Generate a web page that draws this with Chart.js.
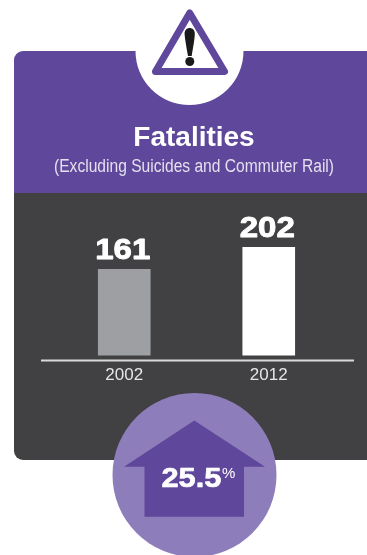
<!DOCTYPE html>
<html>
<head>
<meta charset="utf-8">
<title>Fatalities</title>
<style>
    html, body { margin: 0; padding: 0; background: #fff; }
    canvas { display: block; }
</style>
<script src="https://cdn.jsdelivr.net/npm/chart.js@4"></script>
</head>
<body>
<canvas id="myChart" width="367" height="555"></canvas>
<script>
const categories = ['2002', '2012']
const fatalities = [161, 202]
const barColors = ['#9d9fa2', '#ffffff']
const titleText = 'Fatalities'
const subtitleText = '(Excluding Suicides and Commuter Rail)'
const changeValue = '25.5'
const changeUnit = '%'

const purple = '#5f479b'
const lightPurple = '#8e7dbb'
const charcoal = '#414042'
const fontFamily = '"Liberation Sans", Arial, sans-serif'

const Fatalities = (function () {
    // heavy numerals are the bold face stretched sideways and thickened a little
    const _wideText = function (ctx, text, x, y, stretch, weight) {
        ctx.save()
        ctx.translate(x, y)
        ctx.scale(stretch, 1)
        ctx.lineWidth = weight
        ctx.lineJoin = 'round'
        ctx.strokeStyle = ctx.fillStyle
        ctx.fillText(text, 0, 0)
        ctx.strokeText(text, 0, 0)
        ctx.restore()
    }

    const _drawPanel = function (ctx) {
        // purple header and dark body share one rounded outline
        ctx.save()
        ctx.beginPath()
        ctx.roundRect(14, 51, 400, 409, [9, 0, 0, 9])
        ctx.clip()
        ctx.fillStyle = purple
        ctx.fillRect(14, 51, 353, 142)
        ctx.fillStyle = charcoal
        ctx.fillRect(14, 193, 353, 267)
        ctx.restore()

        ctx.fillStyle = '#ffffff'
        ctx.beginPath()
        ctx.arc(189.5, 51, 54, 0, Math.PI * 2)
        ctx.fill()
    }

    const _drawWarning = function (ctx) {
        ctx.beginPath()
        ctx.moveTo(189.7, 13)
        ctx.lineTo(224.5, 71.5)
        ctx.lineTo(155.5, 71.5)
        ctx.closePath()
        ctx.fillStyle = '#ffffff'
        ctx.fill()
        ctx.strokeStyle = purple
        ctx.lineWidth = 7
        ctx.lineJoin = 'round'
        ctx.stroke()

        ctx.fillStyle = '#1a1a1a'
        ctx.beginPath()
        ctx.moveTo(184.6, 34)
        ctx.bezierCurveTo(184.2, 26, 195.2, 26, 194.8, 34)
        ctx.bezierCurveTo(194.6, 40, 192.6, 50, 191.7, 56)
        ctx.lineTo(188, 56)
        ctx.bezierCurveTo(187, 50, 185, 40, 184.6, 34)
        ctx.closePath()
        ctx.fill()
        ctx.beginPath()
        ctx.arc(189.8, 61.5, 4.5, 0, Math.PI * 2)
        ctx.fill()
    }

    const _drawHeading = function (ctx) {
        ctx.fillStyle = '#ffffff'
        ctx.textAlign = 'center'
        ctx.textBaseline = 'alphabetic'
        ctx.font = 'bold 28px ' + fontFamily
        ctx.fillText(titleText, 194, 146)
        ctx.fillStyle = '#e4e0ee'
        ctx.font = '18px ' + fontFamily
        ctx.fillText(subtitleText, 194, 172, 280)
    }

    const _drawBadge = function (ctx) {
        ctx.fillStyle = lightPurple
        ctx.beginPath()
        ctx.arc(194.5, 475, 82, 0, Math.PI * 2)
        ctx.fill()

        ctx.fillStyle = purple
        ctx.beginPath()
        ctx.moveTo(194.3, 420.5)
        ctx.lineTo(265, 466.7)
        ctx.lineTo(244, 466.7)
        ctx.lineTo(244, 516.7)
        ctx.lineTo(144.5, 516.7)
        ctx.lineTo(144.5, 466.7)
        ctx.lineTo(124, 466.7)
        ctx.closePath()
        ctx.fill()

        ctx.fillStyle = '#ffffff'
        ctx.textBaseline = 'alphabetic'
        ctx.textAlign = 'left'
        ctx.font = 'bold 27px ' + fontFamily
        _wideText(ctx, changeValue, 161.5, 486.5, 1.14, 0.6)
        ctx.font = '15px ' + fontFamily
        ctx.fillText(changeUnit, 222, 477.5)
    }

    const _backdropPlugin = {
        id: 'backdrop',
        beforeDraw: function (chart) {
            const ctx = chart.ctx
            ctx.save()
            _drawPanel(ctx)
            _drawWarning(ctx)
            _drawHeading(ctx)
            _drawBadge(ctx)
            ctx.restore()
        }
    }

    // baseline runs a bit wider than the category band, values sit above the bars
    const _barExtrasPlugin = {
        id: 'barExtras',
        afterDatasetsDraw: function (chart) {
            const ctx = chart.ctx
            const area = chart.chartArea
            ctx.save()
            ctx.strokeStyle = '#d9d9d9'
            ctx.lineWidth = 2
            ctx.beginPath()
            ctx.moveTo(area.left - 11, area.bottom)
            ctx.lineTo(area.right + 13, area.bottom)
            ctx.stroke()

            ctx.fillStyle = '#ffffff'
            ctx.textAlign = 'center'
            ctx.textBaseline = 'alphabetic'
            ctx.font = 'bold 29px ' + fontFamily
            chart.getDatasetMeta(0).data.forEach(function (bar, i) {
                _wideText(ctx, fatalities[i], bar.x - 1.5, bar.y - 10, 1.14, 0.9)
            })
            ctx.restore()
        }
    }

    const init = function () {
        new Chart(document.getElementById('myChart').getContext('2d'), {
            type: 'bar',
            data: {
                labels: categories,
                datasets: [{
                    data: fatalities,
                    backgroundColor: barColors,
                    barThickness: 52
                }]
            },
            options: {
                responsive: false,
                animation: false,
                layout: {
                    padding: { top: 210, left: 52, right: 26, bottom: 170.5 }
                },
                plugins: {
                    legend: { display: false },
                    tooltip: { enabled: false }
                },
                scales: {
                    x: {
                        afterFit: function (scale) { scale.height = 24 },
                        grid: { display: false, drawTicks: false },
                        border: { display: false },
                        ticks: {
                            color: '#e6e6e6',
                            padding: 5,
                            maxRotation: 0,
                            font: { family: fontFamily, size: 17 }
                        }
                    },
                    y: {
                        display: false,
                        min: -10,
                        max: 272
                    }
                }
            },
            plugins: [_backdropPlugin, _barExtrasPlugin]
        })
    }

    return {
        init: init
    }
})()

Fatalities.init()
</script>
</body>
</html>
